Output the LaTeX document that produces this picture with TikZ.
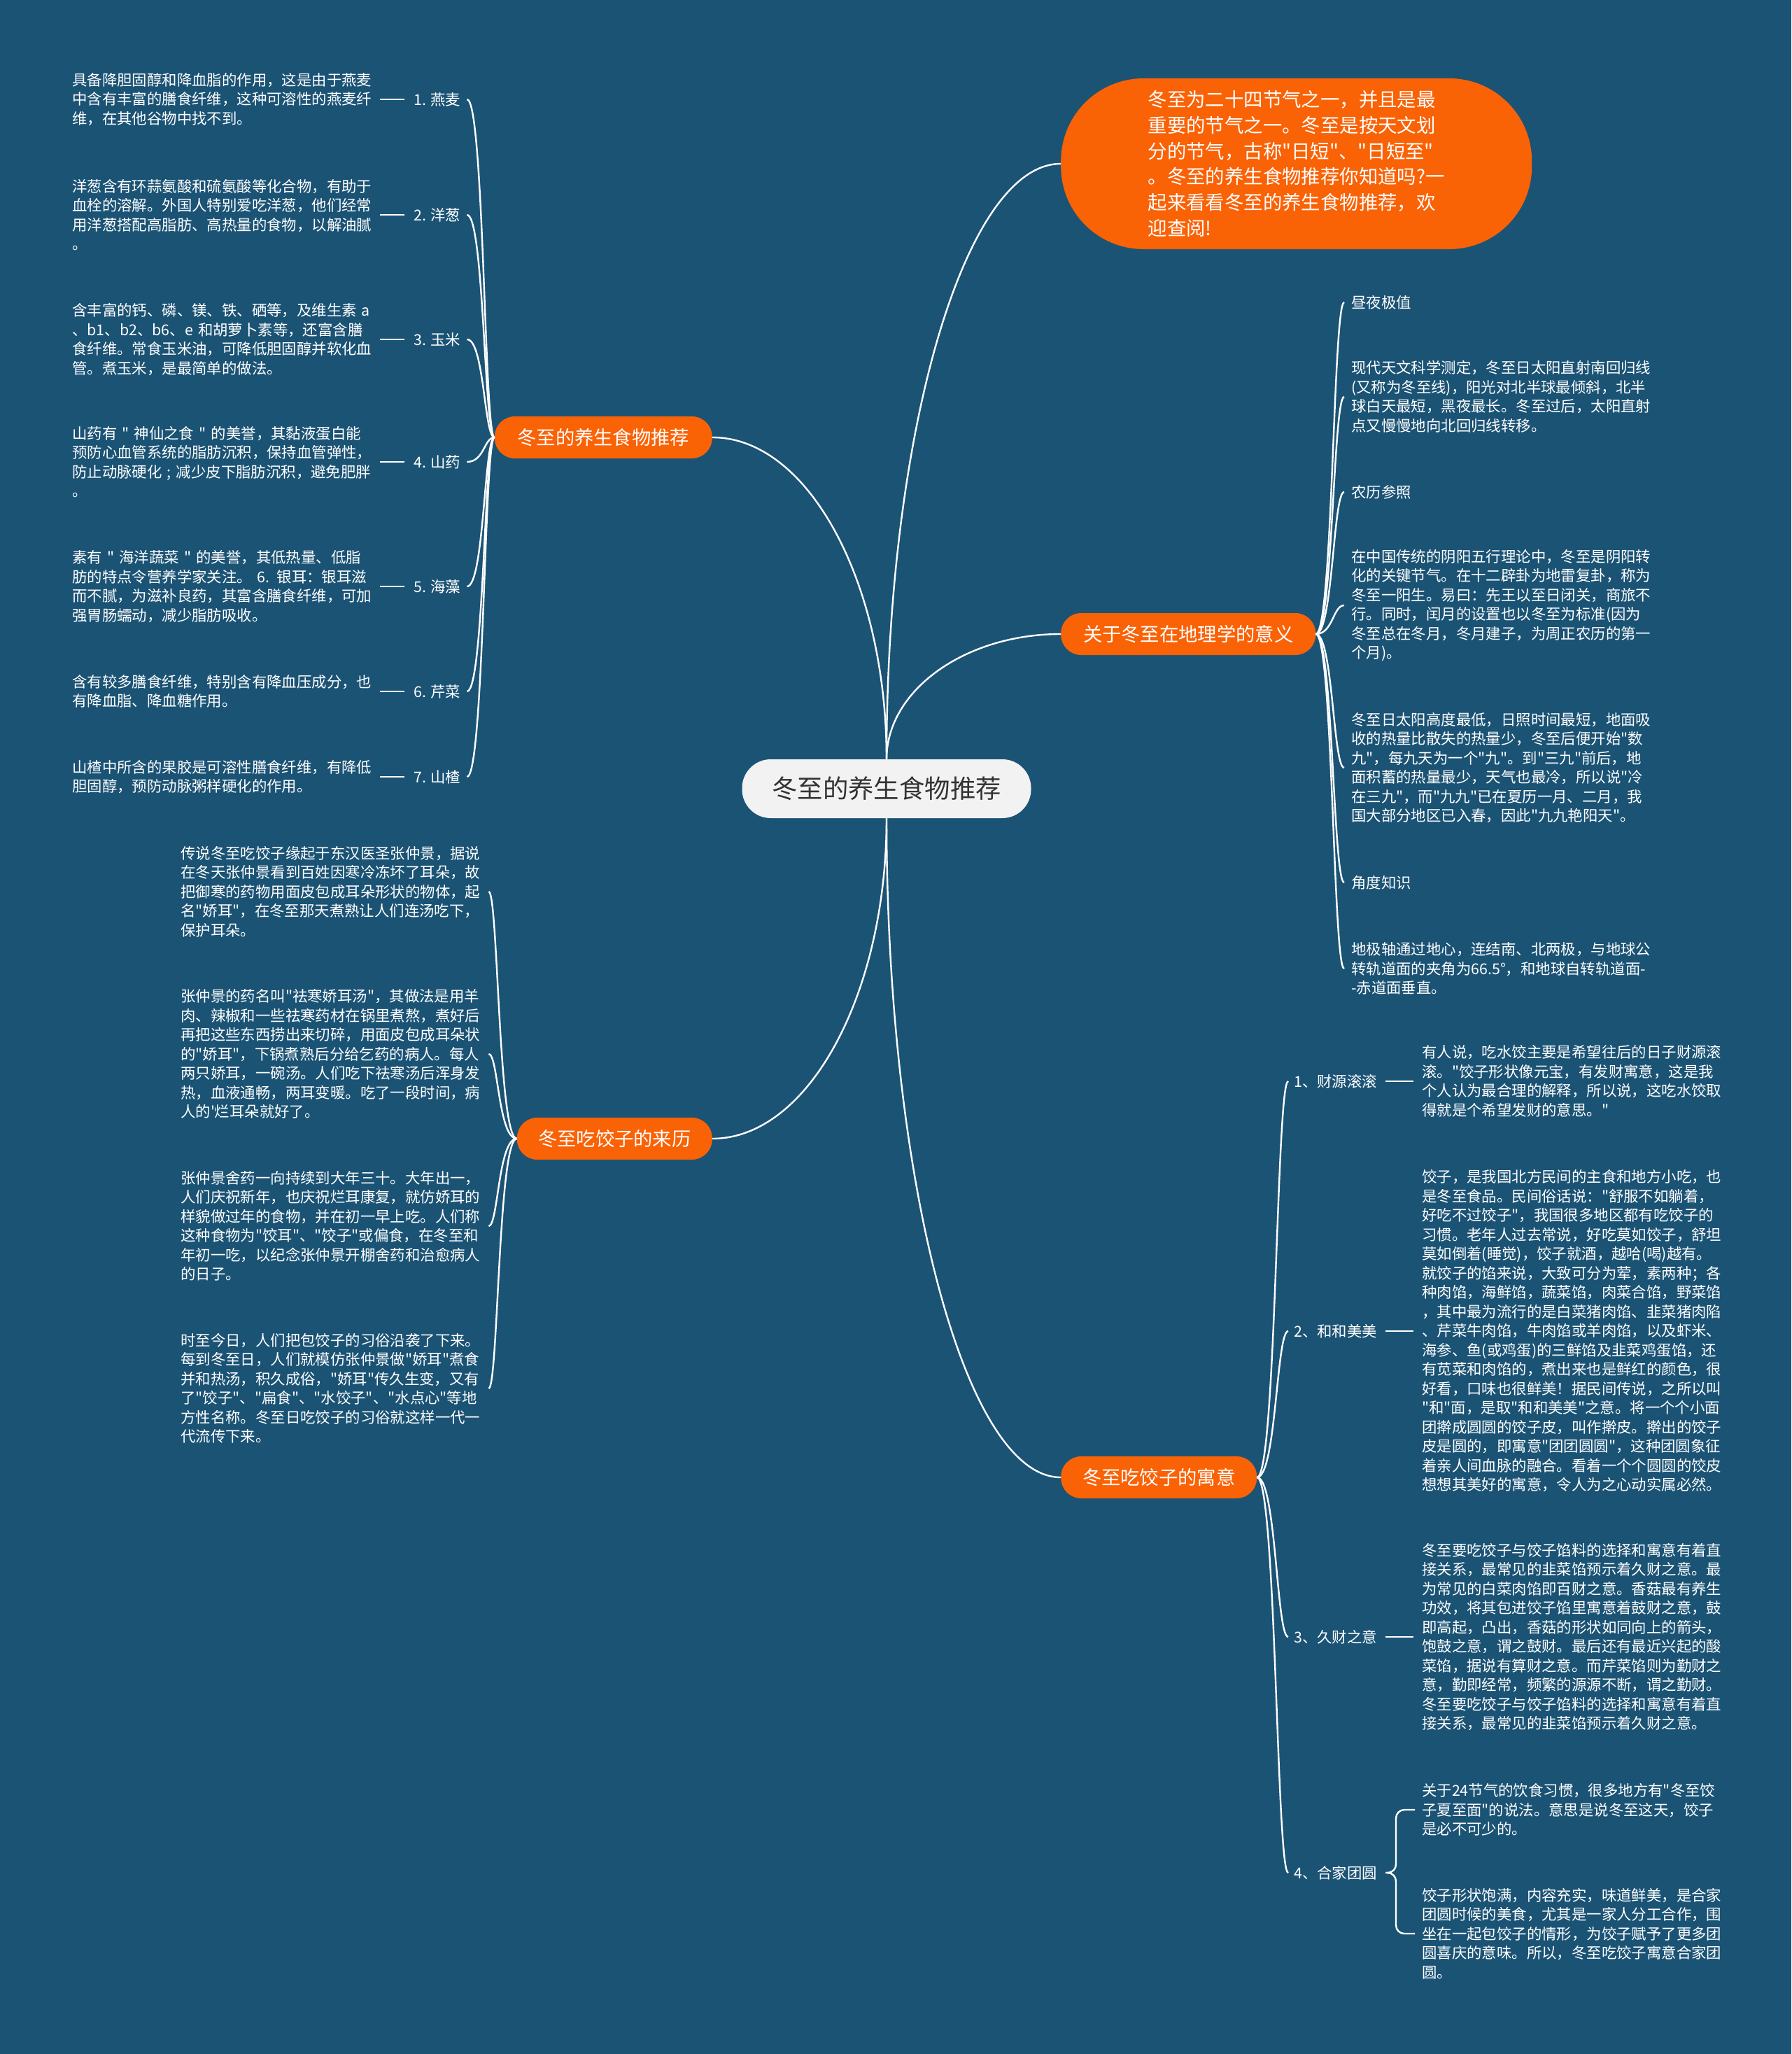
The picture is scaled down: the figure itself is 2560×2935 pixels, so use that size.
\documentclass[tikz,border=0pt]{standalone}
\usepackage{fontspec}
\newfontfamily\cjk{Noto Sans CJK SC}
\usetikzlibrary{calc}
\definecolor{bgc}{HTML}{1B5375}
\definecolor{org}{HTML}{FA6206}
\definecolor{ctr}{HTML}{F2F2F2}
\definecolor{ctrtext}{HTML}{333333}
\tikzset{
  body/.style={font=\cjk\fontsize{21.4}{27.5}\selectfont, text=white, align=left, inner sep=0pt, anchor=west, text width=440pt},
  lab/.style={font=\cjk\fontsize{21.4}{27.5}\selectfont, text=white, inner sep=0pt, anchor=west},
  branch/.style={fill=org, text=white, font=\cjk\fontsize{27.3}{32}\selectfont, rounded corners=29pt, minimum height=60pt, inner sep=0pt},
  link/.style={draw=white, line width=2.4pt},
}
\newcommand\mmlink[2]{\draw[link] (#1) .. controls ($(#1)!0.55!(#1|-#2)$) and ($(#2)!0.55!(#1|-#2)$) .. (#2);}
\begin{document}
\begin{tikzpicture}[x=1pt,y=-1pt]
\fill[bgc] (0,0) rectangle (2560,2935);
% center and branches
\node[fill=ctr, text=ctrtext, font=\cjk\fontsize{36.4}{40}\selectfont, rounded corners=41pt, minimum width=413pt, minimum height=84pt, inner sep=0pt] (c) at (1267,1127) {冬至的养生食物推荐};
\node[branch, minimum width=311pt, anchor=east] (A) at (1018,625) {冬至的养生食物推荐};
\node[branch, minimum width=279pt, anchor=east] (B) at (1018,1627) {冬至吃饺子的来历};
\node[branch, minimum width=364pt, anchor=west] (C) at (1516,906) {关于冬至在地理学的意义};
\node[branch, minimum width=280pt, anchor=west] (D) at (1516,2111) {冬至吃饺子的寓意};
\node[fill=org, text=white, font=\cjk\fontsize{27.4}{36.7}\selectfont, rounded corners=118pt, minimum width=673pt, minimum height=244pt, inner sep=0pt, align=left, anchor=west] (bub) at (1516,234) {冬至为二十四节气之一，并且是最\\重要的节气之一。冬至是按天文划\\分的节气，古称"日短"、"日短至"\\。冬至的养生食物推荐你知道吗?一\\起来看看冬至的养生食物推荐，欢\\迎查阅!};
\mmlink{c.north}{A.east}
\mmlink{c.north}{bub.west}
\mmlink{c.north}{C.west}
\mmlink{c.south}{B.east}
\mmlink{c.south}{D.west}
% food group
\node[body] (f1) at (103,142) {具备降胆固醇和降血脂的作用，这是由于燕麦\\中含有丰富的膳食纤维，这种可溶性的燕麦纤\\维，在其他谷物中找不到。};
\node[body] (f2) at (103,307) {洋葱含有环蒜氨酸和硫氨酸等化合物，有助于\\血栓的溶解。外国人特别爱吃洋葱，他们经常\\用洋葱搭配高脂肪、高热量的食物，以解油腻\\。};
\node[body] (f3) at (103,485) {含丰富的钙、磷、镁、铁、硒等，及维生素 a\\、b1、b2、b6、e 和胡萝卜素等，还富含膳\\食纤维。常食玉米油，可降低胆固醇并软化血\\管。煮玉米，是最简单的做法。};
\node[body] (f4) at (103,660) {山药有 " 神仙之食 " 的美誉，其黏液蛋白能\\预防心血管系统的脂肪沉积，保持血管弹性，\\防止动脉硬化 ; 减少皮下脂肪沉积，避免肥胖\\。};
\node[body] (f5) at (103,838) {素有 " 海洋蔬菜 " 的美誉，其低热量、低脂\\肪的特点令营养学家关注。 6. 银耳：银耳滋\\而不腻，为滋补良药，其富含膳食纤维，可加\\强胃肠蠕动，减少脂肪吸收。};
\node[body] (f6) at (103,988) {含有较多膳食纤维，特别含有降血压成分，也\\有降血脂、降血糖作用。};
\node[body] (f7) at (103,1110) {山楂中所含的果胶是可溶性膳食纤维，有降低\\胆固醇，预防动脉粥样硬化的作用。};
\node[lab] (l1) at (591,142) {1. 燕麦};
\node[lab] (l2) at (591,307) {2. 洋葱};
\node[lab] (l3) at (591,485) {3. 玉米};
\node[lab] (l4) at (591,660) {4. 山药};
\node[lab] (l5) at (591,838) {5. 海藻};
\node[lab] (l6) at (591,988) {6. 芹菜};
\node[lab] (l7) at (591,1110) {7. 山楂};
\foreach \i/\y in {1/142,2/307,3/485,4/660,5/838,6/988,7/1110}{
  \draw[link] (f\i.east) -- ([xshift=-13pt]l\i.west);
  \draw[link] (A.west) .. controls (692,625) and (692,\y) .. ([xshift=9pt]l\i.east);
}
% origin group
\node[body] (o1) at (258,1274) {传说冬至吃饺子缘起于东汉医圣张仲景，据说\\在冬天张仲景看到百姓因寒冷冻坏了耳朵，故\\把御寒的药物用面皮包成耳朵形状的物体，起\\名"娇耳"，在冬至那天煮熟让人们连汤吃下，\\保护耳朵。};
\node[body] (o2) at (258,1506) {张仲景的药名叫"祛寒娇耳汤"，其做法是用羊\\肉、辣椒和一些祛寒药材在锅里煮熬，煮好后\\再把这些东西捞出来切碎，用面皮包成耳朵状\\的"娇耳"，下锅煮熟后分给乞药的病人。每人\\两只娇耳，一碗汤。人们吃下祛寒汤后浑身发\\热，血液通畅，两耳变暖。吃了一段时间，病\\人的'烂耳朵就好了。};
\node[body] (o3) at (258,1752) {张仲景舍药一向持续到大年三十。大年出一，\\人们庆祝新年，也庆祝烂耳康复，就仿娇耳的\\样貌做过年的食物，并在初一早上吃。人们称\\这种食物为"饺耳"、"饺子"或偏食，在冬至和\\年初一吃，以纪念张仲景开棚舍药和治愈病人\\的日子。};
\node[body] (o4) at (258,1984) {时至今日，人们把包饺子的习俗沿袭了下来。\\每到冬至日，人们就模仿张仲景做"娇耳"煮食\\并和热汤，积久成俗，"娇耳"传久生变，又有\\了"饺子"、"扁食"、"水饺子"、"水点心"等地\\方性名称。冬至日吃饺子的习俗就这样一代一\\代流传下来。};
\foreach \i/\y in {1/1274,2/1506,3/1752,4/1984}{
  \draw[link] (B.west) .. controls (712,1627) and (712,\y) .. (o\i.east);
}
% geography group
\node[lab] (g1) at (1931,432) {昼夜极值};
\node[body] (g2) at (1931,567) {现代天文科学测定，冬至日太阳直射南回归线\\(又称为冬至线)，阳光对北半球最倾斜，北半\\球白天最短，黑夜最长。冬至过后，太阳直射\\点又慢慢地向北回归线转移。};
\node[lab] (g3) at (1931,703) {农历参照};
\node[body] (g4) at (1931,865) {在中国传统的阴阳五行理论中，冬至是阴阳转\\化的关键节气。在十二辟卦为地雷复卦，称为\\冬至一阳生。易曰：先王以至日闭关，商旅不\\行。同时，闰月的设置也以冬至为标准(因为\\冬至总在冬月，冬月建子，为周正农历的第一\\个月)。};
\node[body] (g5) at (1931,1097) {冬至日太阳高度最低，日照时间最短，地面吸\\收的热量比散失的热量少，冬至后便开始"数\\九"，每九天为一个"九"。到"三九"前后，地\\面积蓄的热量最少，天气也最冷，所以说"冷\\在三九"，而"九九"已在夏历一月、二月，我\\国大部分地区已入春，因此"九九艳阳天"。};
\node[lab] (g6) at (1931,1261) {角度知识};
\node[body] (g7) at (1931,1384) {地极轴通过地心，连结南、北两极，与地球公\\转轨道面的夹角为66.5°，和地球自转轨道面-\\-赤道面垂直。};
\foreach \i/\y in {1/432,2/567,3/703,4/865,5/1097,6/1261,7/1384}{
  \draw[link] (C.east) .. controls (1905,906) and (1905,\y) .. ([xshift=-10pt]g\i.west);
}
% meaning group
\node[lab] (m1) at (1849,1545) {1、财源滚滚};
\node[lab] (m2) at (1849,1902) {2、和和美美};
\node[lab] (m3) at (1849,2339) {3、久财之意};
\node[lab] (m4) at (1849,2676) {4、合家团圆};
\node[body] (t1) at (2032,1545) {有人说，吃水饺主要是希望往后的日子财源滚\\滚。"饺子形状像元宝，有发财寓意，这是我\\个人认为最合理的解释，所以说，这吃水饺取\\得就是个希望发财的意思。"};
\node[body] (t2) at (2032,1902) {饺子，是我国北方民间的主食和地方小吃，也\\是冬至食品。民间俗话说："舒服不如躺着，\\好吃不过饺子"，我国很多地区都有吃饺子的\\习惯。老年人过去常说，好吃莫如饺子，舒坦\\莫如倒着(睡觉)，饺子就酒，越哈(喝)越有。\\就饺子的馅来说，大致可分为荤，素两种；各\\种肉馅，海鲜馅，蔬菜馅，肉菜合馅，野菜馅\\，其中最为流行的是白菜猪肉馅、韭菜猪肉陷\\、芹菜牛肉馅，牛肉馅或羊肉馅，以及虾米、\\海参、鱼(或鸡蛋)的三鲜馅及韭菜鸡蛋馅，还\\有苋菜和肉馅的，煮出来也是鲜红的颜色，很\\好看，口味也很鲜美！据民间传说，之所以叫\\"和"面，是取"和和美美"之意。将一个个小面\\团擀成圆圆的饺子皮，叫作擀皮。擀出的饺子\\皮是圆的，即寓意"团团圆圆"，这种团圆象征\\着亲人间血脉的融合。看着一个个圆圆的饺皮\\想想其美好的寓意，令人为之心动实属必然。};
\node[body] (t3) at (2032,2339) {冬至要吃饺子与饺子馅料的选择和寓意有着直\\接关系，最常见的韭菜馅预示着久财之意。最\\为常见的白菜肉馅即百财之意。香菇最有养生\\功效，将其包进饺子馅里寓意着鼓财之意，鼓\\即高起，凸出，香菇的形状如同向上的箭头，\\饱鼓之意，谓之鼓财。最后还有最近兴起的酸\\菜馅，据说有算财之意。而芹菜馅则为勤财之\\意，勤即经常，频繁的源源不断，谓之勤财。\\冬至要吃饺子与饺子馅料的选择和寓意有着直\\接关系，最常见的韭菜馅预示着久财之意。};
\node[body] (t4a) at (2032,2586) {关于24节气的饮食习惯，很多地方有"冬至饺\\子夏至面"的说法。意思是说冬至这天，饺子\\是必不可少的。};
\node[body] (t4b) at (2032,2763) {饺子形状饱满，内容充实，味道鲜美，是合家\\团圆时候的美食，尤其是一家人分工合作，围\\坐在一起包饺子的情形，为饺子赋予了更多团\\圆喜庆的意味。所以，冬至吃饺子寓意合家团\\圆。};
\foreach \i/\y in {1/1545,2/1902,3/2339,4/2676}{
  \draw[link] (D.east) .. controls (1824,2111) and (1824,\y) .. ([xshift=-8pt]m\i.west);
}
\foreach \i in {1,2,3}{
  \draw[link] ([xshift=12pt]m\i.east) -- ([xshift=-12pt]t\i.west);
}
\draw[link, rounded corners=12pt] ([xshift=12pt]m4.east) -- (1995,2676) |- ([xshift=-10pt]t4a.west);
\draw[link, rounded corners=12pt] ([xshift=12pt]m4.east) -- (1995,2676) |- ([xshift=-10pt]t4b.west);
\end{tikzpicture}
\end{document}
